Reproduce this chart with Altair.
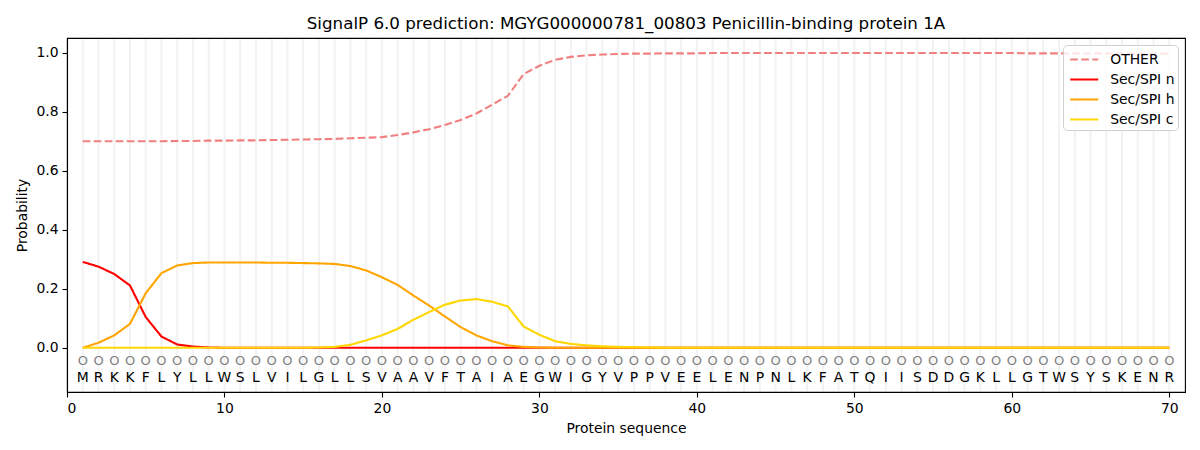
import altair as alt
import pandas as pd

# ---- data ----
sequence = list("MRKKFLYLLWSLVILGLLSVAAVFTAIAEGWIGYVPPVEELENPNLKFATQIISDDGKLLGTWSYSKENR")
positions = list(range(1, len(sequence) + 1))

other = [0.700, 0.700, 0.700, 0.700, 0.700, 0.700, 0.701, 0.701, 0.702, 0.702,
         0.703, 0.703, 0.704, 0.705, 0.706, 0.707, 0.708, 0.710, 0.712, 0.714,
         0.721, 0.730, 0.741, 0.755, 0.772, 0.794, 0.824, 0.854, 0.928, 0.956,
         0.976, 0.986, 0.991, 0.994, 0.996, 0.997, 0.997, 0.998, 0.998, 0.998,
         0.999, 0.999, 0.999, 0.999, 0.999, 0.999, 0.999, 0.999, 0.999, 0.999,
         0.999, 0.999, 0.999, 0.999, 0.999, 0.999, 0.999, 0.999, 0.999, 0.999,
         0.998, 0.998, 0.998, 0.998, 0.998, 0.998, 0.997, 0.997, 0.997, 0.997]
sec_n = [0.291, 0.275, 0.250, 0.211, 0.104, 0.038, 0.011, 0.004, 0.001, 0.0,
         0.0, 0.0, 0.0, 0.0, 0.0, 0.0, 0.0, 0.0, 0.0, 0.0,
         0.0, 0.0, 0.0, 0.0, 0.0, 0.0, 0.0, 0.0, 0.0, 0.0,
         0.0, 0.0, 0.0, 0.0, 0.0, 0.0, 0.0, 0.0, 0.0, 0.0,
         0.0, 0.0, 0.0, 0.0, 0.0, 0.0, 0.0, 0.0, 0.0, 0.0,
         0.0, 0.0, 0.0, 0.0, 0.0, 0.0, 0.0, 0.0, 0.0, 0.0,
         0.0, 0.0, 0.0, 0.0, 0.0, 0.0, 0.0, 0.0, 0.0, 0.0]
sec_h = [0.0, 0.017, 0.042, 0.081, 0.185, 0.253, 0.279, 0.287, 0.289, 0.289,
         0.289, 0.289, 0.288, 0.288, 0.287, 0.286, 0.284, 0.277, 0.262, 0.239,
         0.213, 0.177, 0.143, 0.106, 0.070, 0.042, 0.022, 0.008, 0.003, 0.001,
         0.0, 0.0, 0.0, 0.0, 0.0, 0.0, 0.0, 0.0, 0.0, 0.0,
         0.0, 0.0, 0.0, 0.0, 0.0, 0.0, 0.0, 0.0, 0.0, 0.0,
         0.0, 0.0, 0.0, 0.0, 0.0, 0.0, 0.0, 0.0, 0.0, 0.0,
         0.0, 0.0, 0.0, 0.0, 0.0, 0.0, 0.0, 0.0, 0.0, 0.0]
sec_c = [0.0, 0.0, 0.0, 0.0, 0.0, 0.0, 0.0, 0.0, 0.0, 0.0,
         0.0, 0.0, 0.0, 0.0, 0.0, 0.001, 0.003, 0.010, 0.025, 0.042,
         0.064, 0.095, 0.121, 0.146, 0.160, 0.165, 0.156, 0.140, 0.072, 0.044,
         0.022, 0.013, 0.008, 0.005, 0.003, 0.002, 0.001, 0.0, 0.0, 0.0,
         0.0, 0.0, 0.0, 0.0, 0.0, 0.0, 0.0, 0.0, 0.0, 0.0,
         0.0, 0.0, 0.0, 0.0, 0.0, 0.0, 0.0, 0.0, 0.0, 0.0,
         0.0, 0.0, 0.0, 0.0, 0.0, 0.0, 0.0, 0.0, 0.0, 0.0]

series_names = ["OTHER", "Sec/SPI n", "Sec/SPI h", "Sec/SPI c"]
series_values = [other, sec_n, sec_h, sec_c]
series_colors = ["#f08080", "#ff0000", "#ffa500", "#ffd700"]
series_dash = [[7.7, 3.3], [1, 0], [1, 0], [1, 0]]

x_ticks = [0, 10, 20, 30, 40, 50, 60, 70]
y_ticks = [0.0, 0.2, 0.4, 0.6, 0.8, 1.0]
y_min, y_max = -0.15, 1.05

FONT = "DejaVu Sans"

# ---- tables ----
rows = []
for order, (name, vals) in enumerate(zip(series_names, series_values)):
    for p, v in zip(positions, vals):
        rows.append({"pos": p, "prob": v, "series": name, "order": order})
lines_df = pd.DataFrame(rows)
seq_df = pd.DataFrame({"pos": positions, "aa": sequence, "o": ["O"] * len(positions)})

x_scale = alt.Scale(domain=[0, 71], nice=False, zero=False)
y_scale = alt.Scale(domain=[y_min, y_max], nice=False, zero=False)

# light vertical guide at every residue, kept just inside the frame
grid = alt.Chart(seq_df).mark_rule(color="#f2f2f2", strokeWidth=2).encode(
    x=alt.X("pos:Q", scale=x_scale),
    y=alt.datum(y_max - 0.003),
    y2=alt.datum(y_min + 0.003),
)

lines = alt.Chart(lines_df).mark_line(strokeWidth=2.1).encode(
    x=alt.X("pos:Q", scale=x_scale,
            axis=alt.Axis(values=x_ticks, title="Protein sequence", format="d")),
    y=alt.Y("prob:Q", scale=y_scale,
            axis=alt.Axis(values=y_ticks, title="Probability", format=".1f")),
    color=alt.Color("series:N",
                    scale=alt.Scale(domain=series_names, range=series_colors),
                    legend=alt.Legend(title=None)),
    strokeDash=alt.StrokeDash("series:N",
                              scale=alt.Scale(domain=series_names, range=series_dash),
                              legend=alt.Legend(title=None)),
    order=alt.Order("order:Q"),
    detail="series:N",
)

circles = alt.Chart(seq_df).mark_text(
    font=FONT, fontSize=13, color="#808080", baseline="middle", align="center"
).encode(
    x=alt.X("pos:Q", scale=x_scale),
    y=alt.datum(-0.044),
    text="o:N",
)

letters = alt.Chart(seq_df).mark_text(
    font=FONT, fontSize=13.9, color="#000000", baseline="middle", align="center"
).encode(
    x=alt.X("pos:Q", scale=x_scale),
    y=alt.datum(-0.102),
    text="aa:N",
)

chart = alt.layer(grid, lines, circles, letters).properties(
    width=1118,
    height=354,
    padding={"left": 59, "top": 30, "right": 7, "bottom": 50},
    autosize=alt.AutoSizeParams(type="none"),
    title=alt.TitleParams(
        "SignalP 6.0 prediction: MGYG000000781_00803 Penicillin-binding protein 1A",
        font=FONT, fontSize=16.7, fontWeight="normal", color="#000000",
        anchor="middle", baseline="top", offset=5, frame="group",
    ),
).configure_view(
    stroke="#000000", strokeWidth=1.1
).configure_axis(
    domainColor="#000000", domainWidth=1.1,
    tickColor="#000000", tickWidth=1.1, tickSize=5,
    labelFont=FONT, labelFontSize=13.9, labelColor="#000000", labelPadding=4,
    titleFont=FONT, titleFontSize=13.9, titleColor="#000000", titleFontWeight="normal",
    grid=False,
).configure_axisX(
    titlePadding=7
).configure_axisY(
    titlePadding=6
).configure_legend(
    orient="top-right", offset=7,
    labelFont=FONT, labelFontSize=13.9, labelColor="#000000",
    symbolType="M-1.366,0H1.366", symbolSize=420, symbolStrokeWidth=2.1,
    symbolOffset=6.75, labelOffset=14.5, rowPadding=1, padding=3,
    fillColor="rgba(255,255,255,0.8)", strokeColor="#d0d0d0", cornerRadius=4,
)

chart.save("out.html", embed_options={"renderer": "svg", "actions": False})
